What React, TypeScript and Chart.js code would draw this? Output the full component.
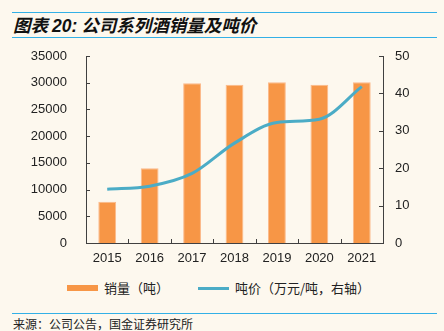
import React, { useEffect, useRef } from "react";
import { Chart, registerables } from "chart.js";

Chart.register(...registerables);

const years = ["2015", "2016", "2017", "2018", "2019", "2020", "2021"];
const volume = [7700, 14000, 29900, 29600, 30100, 29600, 30100];
const price = [14.4, 15.2, 18.6, 26.7, 32.2, 33.1, 41.8];
const leftTicks = [0, 5000, 10000, 15000, 20000, 25000, 30000, 35000];
const rightTicks = [0, 10, 20, 30, 40, 50];

const BG = "#FDF8EE";
const ORANGE = "#F79646";
const BLUE = "#4BACC6";
const RULE = "#33B0E6";
const AXIS = "#404040";
const NUM_FONT = "'Liberation Sans', Arial, sans-serif";
const CJK_FONT = "'Noto Sans CJK SC', sans-serif";

const innerTicks = {
  id: "innerTicks",
  afterDraw(chart: any) {
    const ctx = chart.ctx;
    const y = chart.scales.y;
    const y1 = chart.scales.y1;
    const x = chart.scales.x;
    const area = chart.chartArea;
    ctx.save();
    ctx.strokeStyle = AXIS;
    ctx.lineWidth = 1;
    ctx.beginPath();
    y.ticks.forEach((t: any) => {
      const p = Math.round(y.getPixelForValue(t.value)) + 0.5;
      ctx.moveTo(area.left, p);
      ctx.lineTo(area.left + 4, p);
    });
    y1.ticks.forEach((t: any) => {
      const p = Math.round(y1.getPixelForValue(t.value)) + 0.5;
      ctx.moveTo(area.right, p);
      ctx.lineTo(area.right - 4, p);
    });
    for (let i = 1; i < years.length; i++) {
      const p = Math.round((x.getPixelForValue(i - 1) + x.getPixelForValue(i)) / 2) + 0.5;
      ctx.moveTo(p, area.bottom);
      ctx.lineTo(p, area.bottom - 4);
    }
    ctx.stroke();
    ctx.restore();
  },
};

function fixY(width: number) {
  return (scale: any) => {
    scale.width = width;
    scale.paddingTop = 0;
    scale.paddingBottom = 0;
  };
}

function ChartCanvas() {
  const ref = useRef<HTMLCanvasElement | null>(null);
  useEffect(() => {
    if (!ref.current) return;
    const chart = new Chart(ref.current, {
      type: "bar",
      data: {
        labels: years,
        datasets: [
          {
            type: "line",
            label: "吨价（万元/吨，右轴）",
            data: price,
            yAxisID: "y1",
            borderColor: BLUE,
            backgroundColor: BLUE,
            borderWidth: 3,
            pointRadius: 0,
            cubicInterpolationMode: "monotone",
            order: 1,
          } as any,
          {
            type: "bar",
            label: "销量（吨）",
            data: volume,
            yAxisID: "y",
            backgroundColor: ORANGE,
            borderColor: "#FBB98A",
            borderWidth: 1,
            categoryPercentage: 1,
            barPercentage: 0.42,
            order: 2,
          } as any,
        ],
      },
      options: {
        animation: false,
        responsive: false,
        maintainAspectRatio: false,
        layout: { padding: { top: 11, left: 0, right: 0, bottom: 0 } },
        plugins: {
          legend: { display: false },
          tooltip: { enabled: false },
          title: { display: false },
        },
        scales: {
          x: {
            offset: true,
            grid: { display: false, drawTicks: false },
            border: { display: true, color: AXIS, width: 1 },
            ticks: {
              color: "#222",
              font: { family: NUM_FONT, size: 13 },
              padding: 8,
              maxRotation: 0,
            },
            afterFit(scale: any) {
              scale.height = 27;
              scale.paddingLeft = 0;
              scale.paddingRight = 0;
            },
          },
          y: {
            position: "left",
            min: 0,
            max: 35000,
            afterBuildTicks(scale: any) {
              scale.ticks = leftTicks.map((v) => ({ value: v }));
            },
            grid: { display: false, drawTicks: false },
            border: { display: true, color: AXIS, width: 1 },
            ticks: {
              color: "#222",
              font: { family: NUM_FONT, size: 13 },
              padding: 19,
              callback: (v: any) => String(v),
            },
            afterFit: fixY(86),
          },
          y1: {
            position: "right",
            min: 0,
            max: 50,
            afterBuildTicks(scale: any) {
              scale.ticks = rightTicks.map((v) => ({ value: v }));
            },
            grid: { display: false, drawTicks: false },
            border: { display: true, color: AXIS, width: 1 },
            ticks: {
              color: "#222",
              font: { family: NUM_FONT, size: 13 },
              padding: 12,
              callback: (v: any) => String(v),
            },
            afterFit: fixY(61),
          },
        },
      },
      plugins: [innerTicks],
    });
    return () => chart.destroy();
  }, []);
  return (
    <canvas
      ref={ref}
      width={444}
      height={225}
      style={{ position: "absolute", left: 0, top: 45, width: 444, height: 225 }}
    />
  );
}

export default function App() {
  return (
    <div
      style={{
        position: "fixed",
        left: 0,
        top: 0,
        width: 444,
        height: 331,
        background: BG,
        overflow: "hidden",
        fontFamily: CJK_FONT,
      }}
    >
      <div style={{ position: "absolute", left: 12, top: 12, width: 425, height: 0, borderTop: `1.5px solid ${RULE}` }} />
      <div
        style={{
          position: "absolute",
          left: 13,
          top: 13,
          height: 24,
          lineHeight: "24px",
          fontSize: 17.5,
          fontWeight: "bold",
          fontStyle: "italic",
          color: "#111",
          whiteSpace: "nowrap",
        }}
      >
        图表 <span style={{ fontFamily: NUM_FONT }}>20:</span> 公司系列酒销量及吨价
      </div>
      <div style={{ position: "absolute", left: 12, top: 37, width: 425, height: 0, borderTop: `1.5px solid ${RULE}` }} />
      <ChartCanvas />
      <div style={{ position: "absolute", left: 67, top: 285, width: 31, height: 6, background: ORANGE }} />
      <div
        style={{ position: "absolute", left: 104, top: 279, lineHeight: "18px", fontSize: 13, color: "#222", whiteSpace: "nowrap" }}
      >
        销量（吨）
      </div>
      <div style={{ position: "absolute", left: 198, top: 287, width: 31, height: 3, background: BLUE }} />
      <div
        style={{ position: "absolute", left: 235, top: 279, lineHeight: "18px", fontSize: 13, color: "#222", whiteSpace: "nowrap" }}
      >
        吨价（万元/吨，右轴）
      </div>
      <div style={{ position: "absolute", left: 12, top: 313, width: 425, height: 0, borderTop: `1.5px solid ${RULE}` }} />
      <div
        style={{ position: "absolute", left: 13, top: 316, lineHeight: "16px", fontSize: 12, color: "#222", whiteSpace: "nowrap" }}
      >
        来源：公司公告，国金证券研究所
      </div>
    </div>
  );
}
